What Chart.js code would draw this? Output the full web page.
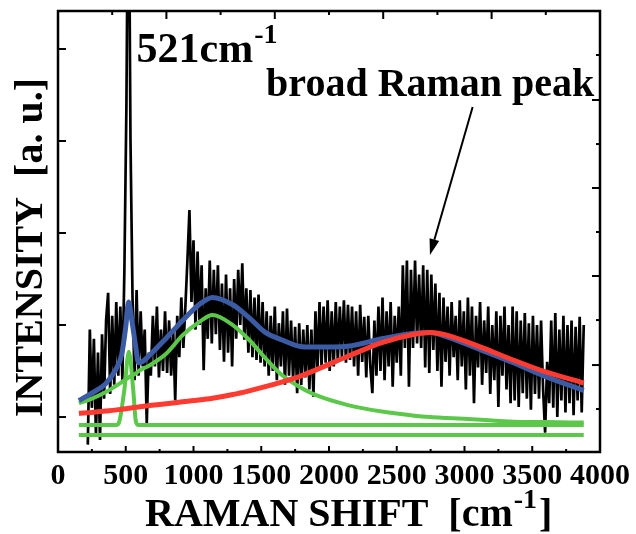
<!DOCTYPE html>
<html><head><meta charset="utf-8">
<script src="https://cdn.jsdelivr.net/npm/chart.js@4"></script>
<style>html,body{margin:0;padding:0;background:#fff}canvas{display:block}</style>
</head><body>
<canvas id="c" width="636" height="534"></canvas>
<script>
// Measured Raman spectrum (cm-1, a.u.)
const spectrumShift = [
220,235,250,265,280,295,310,325,340,355,
370,385,400,415,430,445,460,475,490,505,
520,535,550,565,580,595,610,625,640,655,
670,685,700,715,730,745,760,775,790,805,
820,835,850,865,880,895,910,925,940,955,
970,985,1000,1015,1030,1045,1060,1075,1090,1105,
1120,1135,1150,1165,1180,1195,1210,1225,1240,1255,
1270,1285,1300,1315,1330,1345,1360,1375,1390,1405,
1420,1435,1450,1465,1480,1495,1510,1525,1540,1555,
1570,1585,1600,1615,1630,1645,1660,1675,1690,1705,
1720,1735,1750,1765,1780,1795,1810,1825,1840,1855,
1870,1885,1900,1915,1930,1945,1960,1975,1990,2005,
2020,2035,2050,2065,2080,2095,2110,2125,2140,2155,
2170,2185,2200,2215,2230,2245,2260,2275,2290,2305,
2320,2335,2350,2365,2380,2395,2410,2425,2440,2455,
2470,2485,2500,2515,2530,2545,2560,2575,2590,2605,
2620,2635,2650,2665,2680,2695,2710,2725,2740,2755,
2770,2785,2800,2815,2830,2845,2860,2875,2890,2905,
2920,2935,2950,2965,2980,2995,3010,3025,3040,3055,
3070,3085,3100,3115,3130,3145,3160,3175,3190,3205,
3220,3235,3250,3265,3280,3295,3310,3325,3340,3355,
3370,3385,3400,3415,3430,3445,3460,3475,3490,3505,
3520,3535,3550,3565,3580,3595,3610,3625,3640,3655,
3670,3685,3700,3715,3730,3745,3760,3775,3790,3805,
3820,3835,3850,3865,3880];
const spectrumIntensity = [
-0.30,0.95,0.10,0.85,-0.20,0.70,-0.25,0.90,0.20,1.05,
1.35,0.25,1.10,0.35,1.25,0.45,1.20,0.40,1.60,3.40,
6.50,3.00,1.30,0.40,1.38,0.45,1.15,0.55,0.95,-0.07,
0.70,0.45,1.10,0.55,1.20,0.43,0.95,0.50,1.15,0.48,
1.05,0.45,0.95,0.18,1.10,0.65,1.30,0.75,1.20,1.70,
2.25,1.25,1.92,0.95,1.80,1.00,1.65,0.51,1.40,0.85,
1.70,0.80,1.60,0.90,1.65,0.73,1.45,0.60,1.55,0.70,
1.40,0.55,1.50,0.85,1.60,1.00,1.67,0.84,1.40,0.70,
1.38,0.65,1.30,0.62,1.33,0.59,1.25,0.55,1.15,0.45,
1.10,0.50,1.20,0.40,1.02,0.55,1.15,0.35,1.18,0.45,
1.05,0.40,0.98,0.26,1.02,0.35,0.95,0.43,1.00,0.30,
0.95,0.22,1.15,0.50,1.25,0.55,1.20,0.59,1.27,0.50,
1.15,0.55,1.25,0.60,1.20,0.65,1.27,0.59,1.22,0.62,
1.20,0.55,1.15,0.45,1.22,0.60,1.09,0.43,1.10,0.55,
0.26,1.05,0.45,1.20,0.50,1.30,0.40,1.15,0.55,1.25,
0.33,1.10,0.59,1.20,0.45,1.65,0.75,1.70,0.33,1.60,
0.75,1.70,0.80,1.55,0.75,1.65,0.54,1.60,0.48,1.55,
0.73,1.45,0.50,1.35,0.33,1.30,0.60,1.20,0.45,1.25,
0.65,1.10,0.40,1.27,0.55,1.15,0.30,1.30,0.45,1.20,
0.15,1.10,0.54,1.25,0.35,1.05,0.48,1.20,0.25,1.00,
0.40,1.15,0.11,1.10,0.45,1.20,0.30,1.00,0.15,1.20,
0.18,1.15,0.11,1.05,0.26,1.13,0.20,1.02,0.08,1.10,
0.25,1.00,0.20,1.05,0.30,-0.17,0.60,0.15,1.05,0.10,
1.13,0.00,0.95,0.18,1.10,0.05,1.00,0.15,1.05,0.02,
0.98,0.18,1.09,0.05,1.00];

// Fitted components
const fitShift = [154,250,350,420,470,500,521,545,570,595,620,675,800,920,1040,1140,1290,1410,1530,1650,1780,1900,2140,2390,2630,2750,2870,3120,3360,3600,3880];
const fitTotal = [0.18,0.26,0.36,0.50,0.68,0.98,1.25,1.05,0.80,0.59,0.60,0.67,0.86,1.05,1.22,1.30,1.22,1.08,0.92,0.84,0.77,0.76,0.77,0.85,0.91,0.92,0.87,0.73,0.59,0.44,0.29];
const fitBroadPeak = [0.04,0.05,0.065,0.075,0.085,0.09,0.095,0.10,0.105,0.11,0.115,0.125,0.145,0.165,0.185,0.205,0.245,0.285,0.33,0.38,0.44,0.51,0.66,0.81,0.90,0.92,0.89,0.76,0.62,0.49,0.37];
const fitBand1100 = [0.15,0.20,0.27,0.33,0.38,0.41,0.43,0.45,0.47,0.50,0.52,0.56,0.69,0.89,1.03,1.11,1.00,0.84,0.64,0.46,0.33,0.24,0.13,0.06,0.015,0.00,-0.01,-0.03,-0.05,-0.055,-0.06];
const siBandShift = [154,430,450,490,523,555,575,595,3880];
const siBand = [-0.087,-0.087,-0.06,0.30,0.71,0.30,-0.05,-0.087,-0.087];
const baselineShift = [154,3880];
const baseline = [-0.196,-0.196];

// Axes
const xTicks = [0,500,1000,1500,2000,2500,3000,3500,4000];
const xMinorTicks = [250,750,1250,1750,2250,2750,3250,3750];
const topMajorTicks = [800,1600,2400,3200];
const topMinorTicks = [400,1200,2000,2800,3600];
const leftTicks = [0,1,2,3,4];
const rightMajorTicks = [0.565,1.533,2.489,3.446];
const rightMinorTicks = [0.087,1.054,2.011,2.967,3.935];

const GREEN = '#5cc84a', BLUE = '#3b5ba5', RED = '#ff3a30';
const SERIF = '"Liberation Serif","Times New Roman",serif';

function pts(xs, ys){ return xs.map((s,i)=>({x:s, y:ys[i]})); }

const decor = {
  id: 'decor',
  afterDatasetsDraw(chart){
    const {ctx, chartArea:a, scales:{x, y}} = chart;
    ctx.save();
    ctx.strokeStyle = '#000'; ctx.fillStyle = '#000';
    ctx.lineWidth = 2.5;
    ctx.strokeRect(a.left, a.top, a.right - a.left, a.bottom - a.top);
    ctx.lineWidth = 2;
    const seg = (x1,y1,x2,y2)=>{ ctx.beginPath(); ctx.moveTo(x1,y1); ctx.lineTo(x2,y2); ctx.stroke(); };
    xTicks.forEach(v=>{ const p = x.getPixelForValue(v); seg(p, a.bottom, p, a.bottom - 6); });
    xMinorTicks.forEach(v=>{ const p = x.getPixelForValue(v); seg(p, a.bottom, p, a.bottom - 3); });
    topMajorTicks.forEach(v=>{ const p = x.getPixelForValue(v); seg(p, a.top, p, a.top + 8); });
    topMinorTicks.forEach(v=>{ const p = x.getPixelForValue(v); seg(p, a.top, p, a.top + 4); });
    leftTicks.forEach(v=>{ const p = y.getPixelForValue(v); seg(a.left, p, a.left + 8, p); });
    rightMajorTicks.forEach(v=>{ const p = y.getPixelForValue(v); seg(a.right, p, a.right - 8, p); });
    rightMinorTicks.forEach(v=>{ const p = y.getPixelForValue(v); seg(a.right, p, a.right - 4, p); });

    // annotation: 521 cm-1
    ctx.textBaseline = 'alphabetic'; ctx.textAlign = 'left';
    let tx = x.getPixelForValue(580), ty = y.getPixelForValue(3.86);
    ctx.font = 'bold 42px ' + SERIF;
    ctx.fillText('521cm', tx, ty);
    let w = ctx.measureText('521cm').width;
    ctx.font = 'bold 28px ' + SERIF;
    ctx.fillText('-1', tx + w + 1, ty - 19);

    // annotation: broad Raman peak
    ctx.font = 'bold 40px ' + SERIF;
    ctx.textAlign = 'center';
    ctx.fillText('broad Raman peak', x.getPixelForValue(2747), y.getPixelForValue(3.49));

    // arrow
    const x1 = x.getPixelForValue(3060), y1 = y.getPixelForValue(3.37);
    const x2 = x.getPixelForValue(2745), y2 = y.getPixelForValue(1.76);
    const ang = Math.atan2(y2 - y1, x2 - x1), L = 16, H = 5;
    const bx = x2 - L*Math.cos(ang), by = y2 - L*Math.sin(ang);
    ctx.lineWidth = 2;
    seg(x1, y1, bx, by);
    ctx.beginPath();
    ctx.moveTo(x2, y2);
    ctx.lineTo(bx + H*Math.sin(ang), by - H*Math.cos(ang));
    ctx.lineTo(bx - H*Math.sin(ang), by + H*Math.cos(ang));
    ctx.closePath(); ctx.fill();

    // x axis title
    ctx.textAlign = 'left';
    const xt = a.left + 87, yt = chart.height - 8;
    ctx.font = 'bold 40px ' + SERIF;
    ctx.fillText('RAMAN SHIFT  [cm', xt, yt);
    w = ctx.measureText('RAMAN SHIFT  [cm').width;
    ctx.font = 'bold 28px ' + SERIF;
    ctx.fillText('-1', xt + w + 1, yt - 18);
    const w2 = ctx.measureText('-1').width;
    ctx.font = 'bold 40px ' + SERIF;
    ctx.fillText(']', xt + w + w2 + 3, yt);

    // y axis title
    ctx.save();
    ctx.translate(a.left - 16, (a.top + a.bottom)/2 + 16);
    ctx.rotate(-Math.PI/2);
    ctx.textAlign = 'center';
    ctx.font = 'bold 40px ' + SERIF;
    ctx.fillText('INTENSITY  [a. u.]', 0, 0);
    ctx.restore();
    ctx.restore();
  }
};

new Chart(document.getElementById('c'), {
  type: 'line',
  data: { datasets: [
    { label:'Spectrum', data: pts(spectrumShift, spectrumIntensity), borderColor:'#000', borderWidth:2.7, pointRadius:0, tension:0, order:6 },
    { label:'Baseline', data: pts(baselineShift, baseline), borderColor:GREEN, borderWidth:4, pointRadius:0, order:5 },
    { label:'521 band', data: pts(siBandShift, siBand), borderColor:GREEN, borderWidth:4, pointRadius:0, cubicInterpolationMode:'monotone', order:4 },
    { label:'1100 band', data: pts(fitShift, fitBand1100), borderColor:GREEN, borderWidth:4, pointRadius:0, cubicInterpolationMode:'monotone', order:3 },
    { label:'Total fit', data: pts(fitShift, fitTotal), borderColor:BLUE, borderWidth:5, pointRadius:0, cubicInterpolationMode:'monotone', order:2 },
    { label:'Broad Raman peak', data: pts(fitShift, fitBroadPeak), borderColor:RED, borderWidth:5, pointRadius:0, cubicInterpolationMode:'monotone', order:1 }
  ]},
  options: {
    responsive:false, animation:false, devicePixelRatio:1,
    layout:{ padding:{ left:58, right:33, top:11, bottom:0 } },
    plugins:{ legend:{display:false}, tooltip:{enabled:false} },
    scales:{
      x:{ type:'linear', min:0, max:4000,
          afterBuildTicks(s){ s.ticks = xTicks.map(v=>({value:v})); },
          afterFit(s){ s.height = 82; },
          grid:{ display:false, drawTicks:false }, border:{ display:false },
          ticks:{ font:{ family:SERIF, size:30, weight:'bold' }, color:'#000', padding:6, maxRotation:0, autoSkip:false,
                  callback:(v)=>String(v) } },
      y:{ type:'linear', display:false, min:-0.38, max:4.413 }
    }
  },
  plugins:[decor]
});
</script>
</body></html>
